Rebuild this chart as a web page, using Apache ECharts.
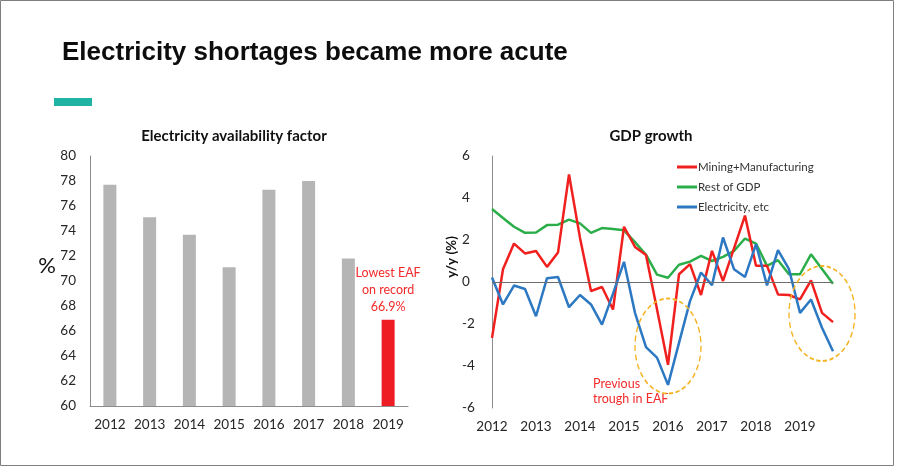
<!DOCTYPE html>
<html>
<head>
<meta charset="utf-8">
<script src="https://cdn.jsdelivr.net/npm/echarts@6/dist/echarts.min.js"></script>
<style>
  html, body { margin: 0; padding: 0; background: #fff; }
  #chart { width: 897px; height: 466px; }
</style>
</head>
<body>
<div id="chart"></div>
<script>
// Electricity availability factor (EAF), annual, %
const eafYears = ['2012', '2013', '2014', '2015', '2016', '2017', '2018', '2019'];
const eafValues = [77.7, 75.1, 73.7, 71.1, 77.3, 78.0, 71.8, 66.9];

// GDP growth, quarterly y/y %, 2012Q1 .. 2019Q4
const yearTicks = ['2012', '2013', '2014', '2015', '2016', '2017', '2018', '2019'];
const miningManufacturing = [
  -2.66, 0.61, 1.83, 1.36, 1.48, 0.72, 1.40, 5.12,
  2.10, -0.43, -0.24, -1.31, 2.63, 1.67, 1.28, -1.30,
  -3.94, 0.37, 0.85, -0.62, 1.48, 0.05, 1.60, 3.16,
  0.77, 0.77, -0.59, -0.62, -0.83, 0.08, -1.47, -1.91
];
const restOfGdp = [
  3.48, 3.05, 2.63, 2.34, 2.36, 2.71, 2.73, 2.97,
  2.79, 2.34, 2.57, 2.52, 2.46, 1.90, 1.30, 0.35,
  0.20, 0.82, 0.97, 1.24, 1.00, 1.20, 1.48, 2.07,
  1.83, 0.77, 1.04, 0.37, 0.37, 1.32, 0.62, -0.08
];
const electricityEtc = [
  0.21, -1.07, -0.17, -0.33, -1.63, 0.18, 0.24, -1.20,
  -0.62, -1.07, -2.03, -0.55, 0.96, -1.47, -3.10, -3.60,
  -4.90, -2.90, -0.91, 0.45, -0.15, 2.12, 0.61, 0.24,
  1.80, -0.16, 1.52, 0.61, -1.47, -0.83, -2.18, -3.30
];

// one category per quarter, labelled by its year
const quarters = [];
yearTicks.forEach(y => { for (let q = 1; q <= 4; q++) quarters.push(y + ' Q' + q); });

const FONT = 'Lato, "Open Sans", sans-serif';
const RED = '#f0201e', GREEN = '#2bae4a', BLUE = '#2c78c2', GREY_BAR = '#b5b5b5', AXIS = '#8c8c8c';

const chart = echarts.init(document.getElementById('chart'), null, { renderer: 'canvas' });

const option = {
  backgroundColor: '#ffffff',
  animation: false,
  textStyle: { fontFamily: FONT },
  title: [
    {
      text: 'Electricity shortages became more acute',
      left: 57, top: 35,
      textStyle: { fontFamily: '"Liberation Sans", Arial, sans-serif', fontWeight: 'bold', fontSize: 26, color: '#0d0d0d' }
    },
    {
      text: 'Electricity availability factor',
      left: 229, top: 124, textAlign: 'center',
      textStyle: { fontFamily: FONT, fontWeight: 'bold', fontSize: 15, color: '#111' }
    },
    {
      text: 'GDP growth',
      left: 646, top: 124, textAlign: 'center',
      textStyle: { fontFamily: FONT, fontWeight: 'bold', fontSize: 15, color: '#111' }
    }
  ],
  legend: {
    orient: 'vertical',
    left: 672, top: 156,
    icon: 'rect',
    itemWidth: 20, itemHeight: 3, itemGap: 8,
    textStyle: { fontFamily: FONT, fontSize: 11.5, color: '#333', padding: [0, 0, 0, -4], lineHeight: 12 },
    data: ['Mining+Manufacturing', 'Rest of GDP', 'Electricity, etc']
  },
  grid: [
    { left: 90, top: 156, width: 318, height: 250 },
    { left: 492, top: 156, width: 341, height: 252 }
  ],
  xAxis: [
    {
      gridIndex: 0, type: 'category', data: eafYears,
      axisLine: { lineStyle: { color: AXIS, width: 1 } },
      axisTick: { show: false },
      axisLabel: { color: '#262626', fontSize: 13.5, margin: 12, interval: 0, fontFamily: FONT }
    },
    {
      gridIndex: 1, type: 'category', data: quarters, boundaryGap: false,
      axisLine: { show: false, onZero: false },
      axisTick: { show: false },
      axisLabel: {
        color: '#262626', fontSize: 13.5, margin: 12, fontFamily: FONT,
        interval: 3, formatter: v => v.slice(0, 4)
      }
    }
  ],
  yAxis: [
    {
      gridIndex: 0, type: 'value', min: 60, max: 80, interval: 2,
      axisLine: { show: true, lineStyle: { color: AXIS, width: 1 } },
      axisTick: { show: false },
      splitLine: { show: false },
      axisLabel: { color: '#262626', fontSize: 13.5, margin: 14, fontFamily: FONT }
    },
    {
      gridIndex: 1, type: 'value', min: -6, max: 6, interval: 2,
      axisLine: { show: true, lineStyle: { color: AXIS, width: 1 } },
      axisTick: { show: false },
      splitLine: { show: false },
      axisLabel: { color: '#262626', fontSize: 13.5, margin: 30, align: 'left', fontFamily: FONT }
    }
  ],
  series: [
    {
      name: 'EAF', type: 'bar', xAxisIndex: 0, yAxisIndex: 0,
      barWidth: 13,
      data: eafValues.map((v, i) => {
        const last = i === eafValues.length - 1;
        return {
          value: v,
          itemStyle: { color: last ? '#ee1d23' : GREY_BAR },
          label: last ? {
            show: true, position: 'top', distance: 4,
            formatter: p => 'Lowest EAF\non record\n' + p.value + '%',
            color: '#f22a2a', fontSize: 12.5, lineHeight: 17, fontFamily: FONT
          } : { show: false }
        };
      })
    },
    {
      name: 'Mining+Manufacturing', type: 'line', xAxisIndex: 1, yAxisIndex: 1,
      data: miningManufacturing, symbol: 'none', z: 3,
      lineStyle: { color: RED, width: 2.5 }, itemStyle: { color: RED },
      markLine: {
        silent: true, symbol: 'none', label: { show: false },
        lineStyle: { color: '#6e6e6e', width: 1, type: 'solid' },
        data: [{ yAxis: 0 }]
      }
    },
    {
      name: 'Rest of GDP', type: 'line', xAxisIndex: 1, yAxisIndex: 1,
      data: restOfGdp, symbol: 'none', z: 2,
      lineStyle: { color: GREEN, width: 2.5 }, itemStyle: { color: GREEN }
    },
    {
      name: 'Electricity, etc', type: 'line', xAxisIndex: 1, yAxisIndex: 1,
      data: electricityEtc, symbol: 'none', z: 4,
      lineStyle: { color: BLUE, width: 2.5 }, itemStyle: { color: BLUE }
    }
  ]
};

chart.setOption(option);

// annotations: ellipses around the two troughs, axis names, accent bar, frame
function ellipseAt(qIndex, value, rx, ry) {
  const [cx, cy] = chart.convertToPixel({ gridIndex: 1 }, [qIndex, value]);
  return {
    type: 'circle', x: cx, y: cy, scaleX: rx / 40, scaleY: ry / 40,
    shape: { cx: 0, cy: 0, r: 40 },
    style: { fill: 'none', stroke: '#f5b324', lineWidth: 1.6, lineDash: [5, 3], strokeNoScale: true },
    z: 10
  };
}

chart.setOption({
  graphic: [
    { type: 'rect', shape: { x: 0.5, y: 0.5, width: 893, height: 465 },
      style: { fill: 'none', stroke: '#7f7f7f', lineWidth: 1 }, silent: true },
    { type: 'rect', shape: { x: 54, y: 98, width: 38, height: 8 }, style: { fill: '#1fb3a3' } },
    { type: 'text', x: 47, y: 266,
      style: { text: '%', fontSize: 22, fontFamily: FONT, fill: '#111', textAlign: 'center', textVerticalAlign: 'middle' } },
    { type: 'text', x: 452, y: 257, rotation: Math.PI / 2,
      style: { text: 'y/y (%)', fontSize: 13.5, fontWeight: 'bold', fontFamily: FONT, fill: '#111', textAlign: 'center', textVerticalAlign: 'middle' } },
    { type: 'text', x: 593, y: 376,
      style: { text: 'Previous\ntrough in EAF', fontSize: 12.5, lineHeight: 15, fontFamily: FONT, fill: '#f22a2a', textAlign: 'left', textVerticalAlign: 'top' } },
    ellipseAt(15.8, -3.05, 33, 47.5),
    ellipseAt(29.5, -1.5, 33, 47.5)
  ]
});
</script>
</body>
</html>
